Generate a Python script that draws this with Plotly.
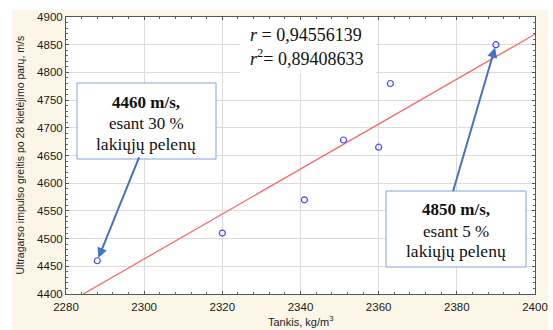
import plotly.graph_objects as go

# Data
density = [2288, 2320, 2341, 2351, 2360, 2363, 2390]
velocity = [4460, 4510, 4570, 4678, 4665, 4780, 4850]
fit_x = [2284.4, 2400]
fit_y = [4400, 4869]
x_ticks = [2280, 2300, 2320, 2340, 2360, 2380, 2400]
y_ticks = [4400, 4450, 4500, 4550, 4600, 4650, 4700, 4750, 4800, 4850, 4900]

W, H = 553, 330
L, R, T, B = 66, 18, 17, 36
pw, ph = W - L - R, H - T - B

def px(xp):
    return (xp - L) / pw

def py(yp):
    return (H - B - yp) / ph

fig = go.Figure()
fig.add_trace(go.Scatter(x=fit_x, y=fit_y, mode="lines",
                         line=dict(color="#ff6060", width=1.2), hoverinfo="skip"))
fig.add_trace(go.Scatter(x=density, y=velocity, mode="markers",
                         marker=dict(symbol="circle-open", size=6, color="#4646ff",
                                     line=dict(width=1.2, color="#4646ff"))))

axis_common = dict(showline=True, linecolor="#555555", linewidth=1, mirror="ticks",
                   showgrid=True, gridcolor="#dcdcdc", gridwidth=1, zeroline=False,
                   ticks="inside", ticklen=3, tickcolor="#555555", automargin=False,
                   tickfont=dict(family="Arial, Liberation Sans", size=11.5, color="#1a1a1a"))

fig.update_xaxes(range=[2280, 2400], tickvals=x_ticks, ticktext=[str(v) for v in x_ticks],
                 ticklabelstandoff=2,
                 minor=dict(dtick=4, ticks="inside", ticklen=2, tickcolor="#666", showgrid=False),
                 **axis_common)
fig.update_yaxes(range=[4400, 4900], tickvals=y_ticks, ticktext=[str(v) for v in y_ticks],
                 minor=dict(dtick=10, ticks="inside", ticklen=2, tickcolor="#666", showgrid=False),
                 **axis_common)

shapes = [
    dict(type="rect", xref="paper", yref="paper", x0=px(12), x1=px(548), y0=py(332), y1=py(10),
         fillcolor="#fbf6e8", line=dict(width=0), layer="below"),
    dict(type="rect", xref="paper", yref="paper", x0=0, x1=1, y0=0, y1=1,
         fillcolor="white", line=dict(width=0), layer="below"),
    dict(type="rect", xref="paper", yref="paper", x0=px(240), x1=px(376), y0=py(73), y1=py(20),
         fillcolor="white", line=dict(width=0), layer="above"),
    dict(type="rect", xref="paper", yref="paper", x0=px(77), x1=px(216), y0=py(159), y1=py(83),
         fillcolor="white", line=dict(color="#7fa8d8", width=1), layer="above"),
    dict(type="rect", xref="paper", yref="paper", x0=px(386), x1=px(526), y0=py(267), y1=py(191),
         fillcolor="white", line=dict(color="#7fa8d8", width=1), layer="above"),
]

serif = "Liberation Serif, Times New Roman, serif"

def txt(xp, yp, text, size, anchor="center", **kw):
    return dict(xref="paper", yref="paper", x=px(xp), y=py(yp), xanchor=anchor, yanchor="middle",
                text=text, showarrow=False, font=dict(family=serif, size=size, color="#111"), **kw)

annotations = [
    txt(248, 35, "<i>r</i> = 0,94556139", 18, anchor="left"),
    txt(248, 57, "<i>r</i><sup>2</sup>= 0,89408633", 18, anchor="left"),
    txt(146, 102, "<b>4460 m/s,</b>", 17),
    txt(146, 123, "esant 30 %", 17),
    txt(146, 144, "lakiųjų pelenų", 17.5),
    txt(456, 209, "<b>4850 m/s,</b>", 17),
    txt(456, 231, "esant 5 %", 17),
    txt(456, 251, "lakiųjų pelenų", 17.5),
    # arrows
    dict(x=density[0], y=velocity[0], xref="x", yref="y", ax=42, ay=-104, text="",
         font=dict(size=1), borderpad=0,
         showarrow=True, arrowhead=2, arrowsize=1, arrowwidth=2, arrowcolor="#4472c4", standoff=3),
    dict(x=density[6], y=velocity[6], xref="x", yref="y", ax=-43, ay=147, text="",
         font=dict(size=1), borderpad=0,
         showarrow=True, arrowhead=2, arrowsize=1, arrowwidth=2, arrowcolor="#4472c4", standoff=3),
    # axis titles
    dict(xref="paper", yref="paper", x=0.5, y=py(321), xanchor="center", yanchor="middle",
         text="Tankis, kg/m<sup>3</sup>", showarrow=False,
         font=dict(family="Arial, Liberation Sans", size=11, color="#222")),
    dict(xref="paper", yref="paper", x=px(19), y=0.5, xanchor="center", yanchor="middle",
         text="Ultragarso impulso greitis po 28 kietėjimo parų, m/s", textangle=-90, showarrow=False,
         font=dict(family="Arial, Liberation Sans", size=10.5, color="#222")),
]

fig.update_layout(width=W, height=H, margin=dict(l=L, r=R, t=T, b=B, autoexpand=False),
                  paper_bgcolor="white", plot_bgcolor="rgba(0,0,0,0)",
                  showlegend=False, shapes=shapes, annotations=annotations)

fig.write_html("out.html", config={"displayModeBar": False},
               post_script="document.body.style.margin='0';document.body.style.overflow='hidden';")
